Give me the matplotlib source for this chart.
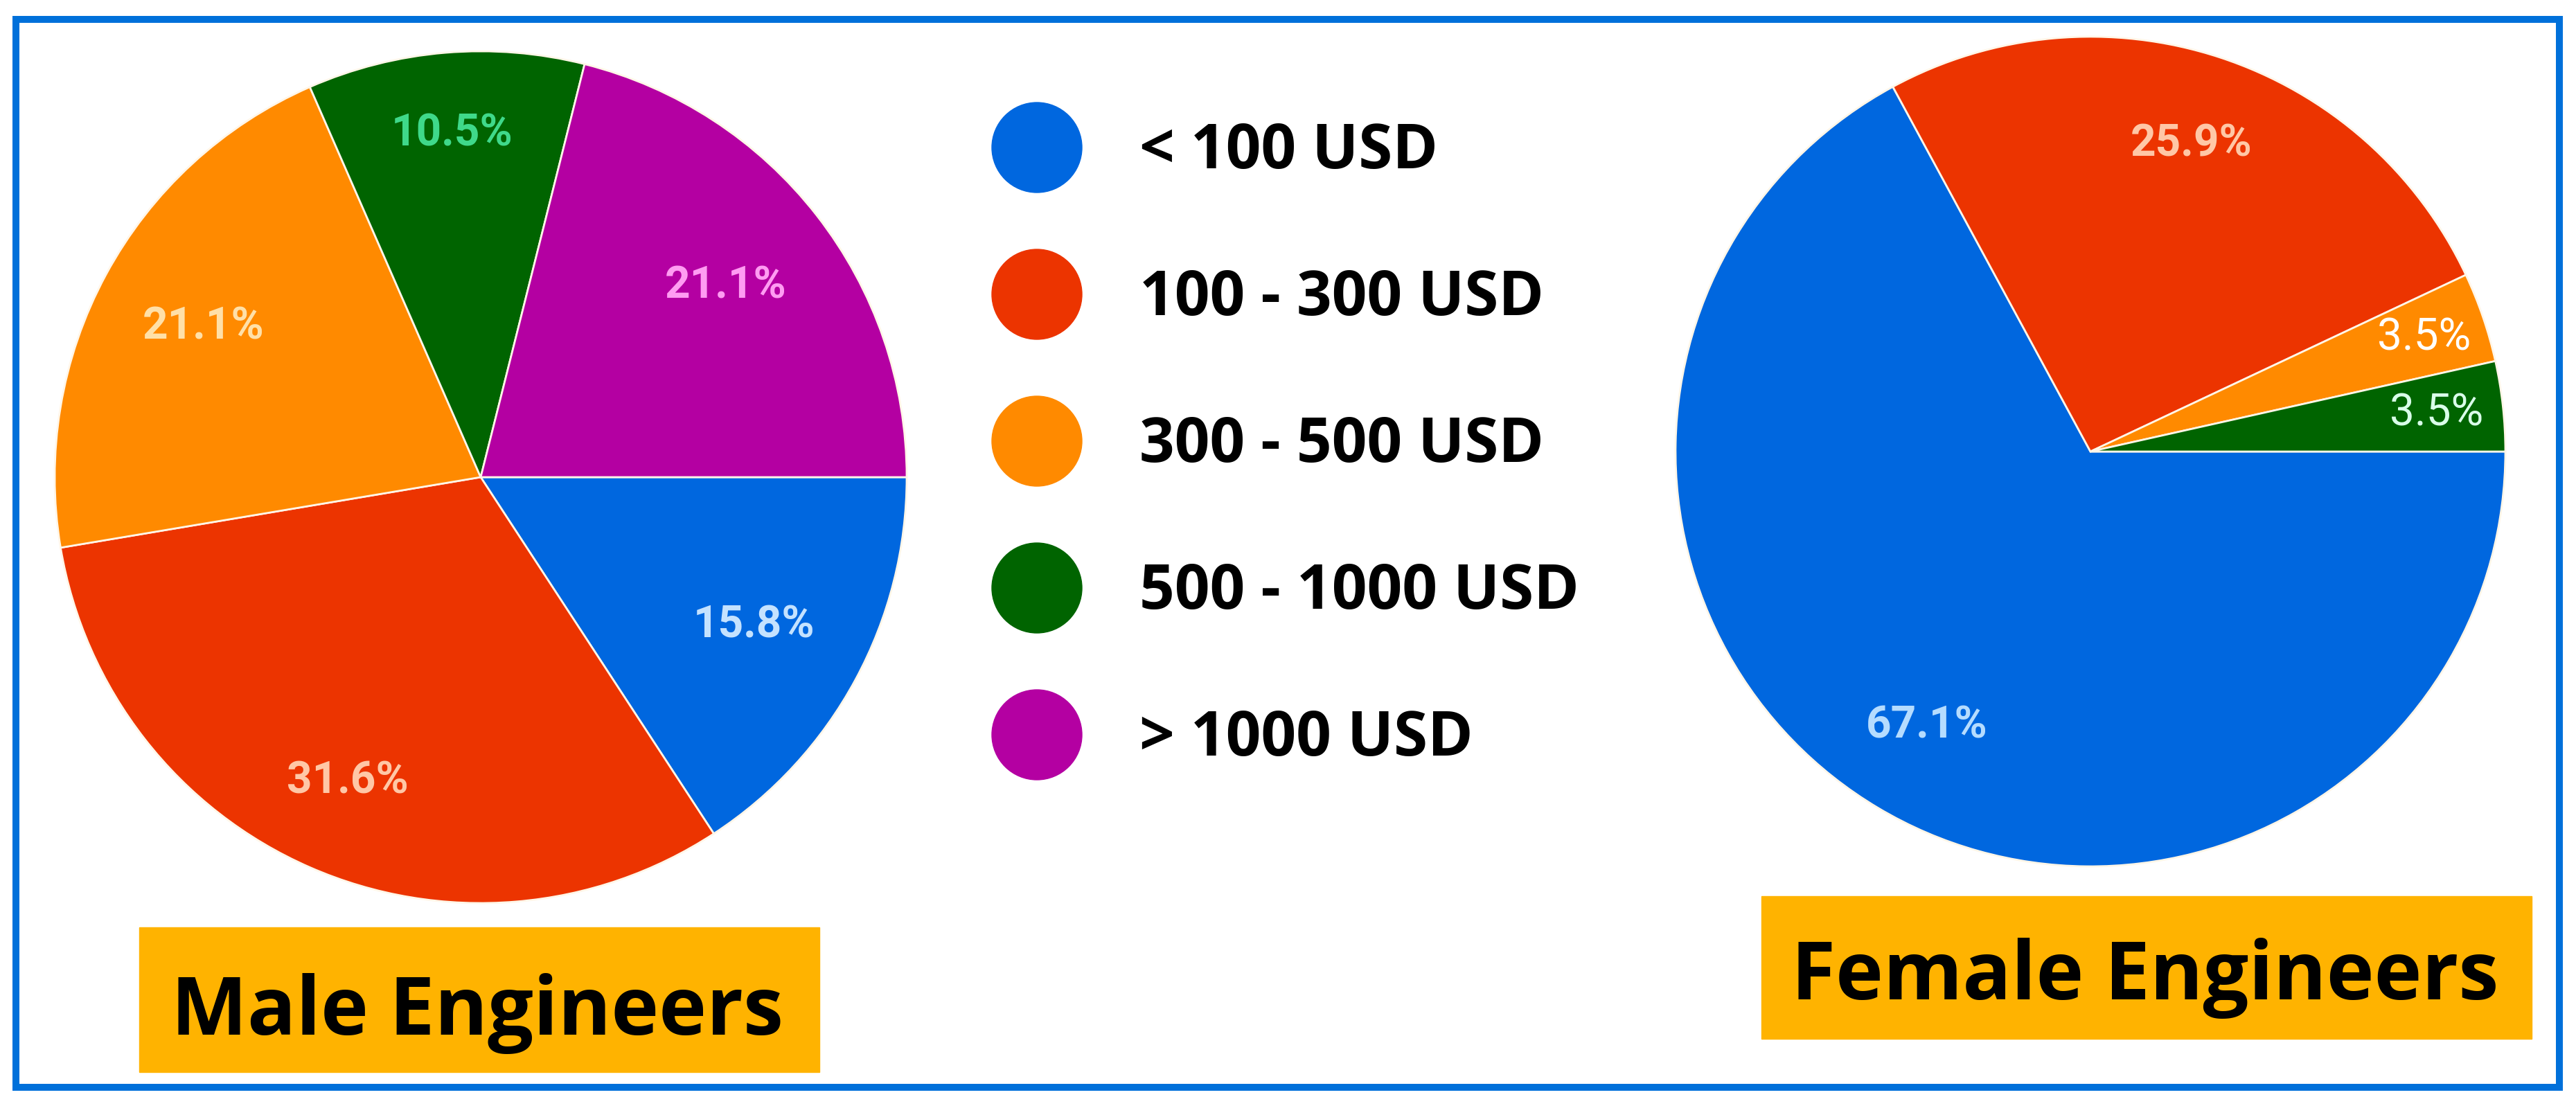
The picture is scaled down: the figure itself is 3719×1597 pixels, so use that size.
import matplotlib.pyplot as plt
from matplotlib.patches import Rectangle
import numpy as np

# data
categories = ['< 100 USD', '100 - 300 USD', '300 - 500 USD', '500 - 1000 USD', '> 1000 USD']
male_pct = [15.8, 31.6, 21.1, 10.5, 21.1]
female_pct = [67.1, 25.9, 3.5, 3.5]
titles = ['Male Engineers', 'Female Engineers']

# styles
colors = ['#0067DF', '#EC3400', '#FF8A00', '#006400', '#B400A2']
male_text_colors = ['#C4E2FF', '#FFC7A6', '#FFE0A8', '#3FD98A', '#FF9CF2']
female_text_colors = ['#B5DCFF', '#FFC7A6', '#FFFFFF', '#D9FFE9']
male_dist = [0.73, 0.78, 0.74, 0.81, 0.73]
female_dist = [0.77, 0.78, 0.85, 0.84]
male_weight = ['bold'] * 5
female_weight = ['bold', 'bold', 'normal', 'normal']
box_color = '#FFB300'
border_color = '#0070DA'

W, H = 3719, 1597
fig = plt.figure(figsize=(W / 100, H / 100), dpi=100)


def px_axes(cx, cy, r):
    return fig.add_axes([(cx - r) / W, (H - cy - r) / H, 2 * r / W, 2 * r / H])


def draw_pie(ax, values, tcols, dists, weights):
    wedges, _, autotexts = ax.pie(values, colors=colors[:len(values)], startangle=0,
                                  counterclock=False, autopct='%.1f%%',
                                  wedgeprops=dict(edgecolor='#FFF6E8', linewidth=2))
    for w, t, c, d, fw in zip(wedges, autotexts, tcols, dists, weights):
        ang = np.deg2rad((w.theta1 + w.theta2) / 2)
        t.set_position((d * np.cos(ang), d * np.sin(ang)))
        t.set_color(c)
        t.set_fontsize(46)
        t.set_family(['Roboto', 'DejaVu Sans'])
        t.set_weight(fw)
    ax.set_xlim(-1, 1)
    ax.set_ylim(-1, 1)
    ax.axis('off')


ax_m = px_axes(694, 689, 615)
draw_pie(ax_m, male_pct, male_text_colors, male_dist, male_weight)

ax_f = px_axes(3018, 652, 599)
draw_pie(ax_f, female_pct, female_text_colors, female_dist, female_weight)

# overlay in pixel coordinates for legend, boxes and frame
ov = fig.add_axes([0, 0, 1, 1])
ov.set_xlim(0, W)
ov.set_ylim(H, 0)
ov.axis('off')

leg_y = 213 + 212 * np.arange(len(categories))
ov.scatter([1497] * len(categories), leg_y, s=(130 * 0.72) ** 2, c=colors, zorder=3)
for y, lab in zip(leg_y, categories):
    ov.text(1645, y + 30, lab, fontsize=64, fontweight='bold', va='baseline', ha='left',
            family=['Open Sans', 'Lato', 'DejaVu Sans'], color='black')

# title boxes
ov.add_patch(Rectangle((201, 1339), 982, 209, color=box_color, zorder=2))
ov.text(689, 1494, titles[0], fontsize=84, fontweight='bold', ha='center', va='baseline',
        family=['Open Sans', 'Lato', 'DejaVu Sans'], zorder=3)
ov.add_patch(Rectangle((2543, 1294), 1112, 206, color=box_color, zorder=2))
ov.text(3097, 1443, titles[1], fontsize=84, fontweight='bold', ha='center', va='baseline',
        family=['Open Sans', 'Lato', 'DejaVu Sans'], zorder=3)

# blue frame
ov.add_patch(Rectangle((23, 28), 3672, 1542, fill=False, edgecolor=border_color,
                       linewidth=7.2, zorder=4))

fig.savefig('out.png', dpi=100)
